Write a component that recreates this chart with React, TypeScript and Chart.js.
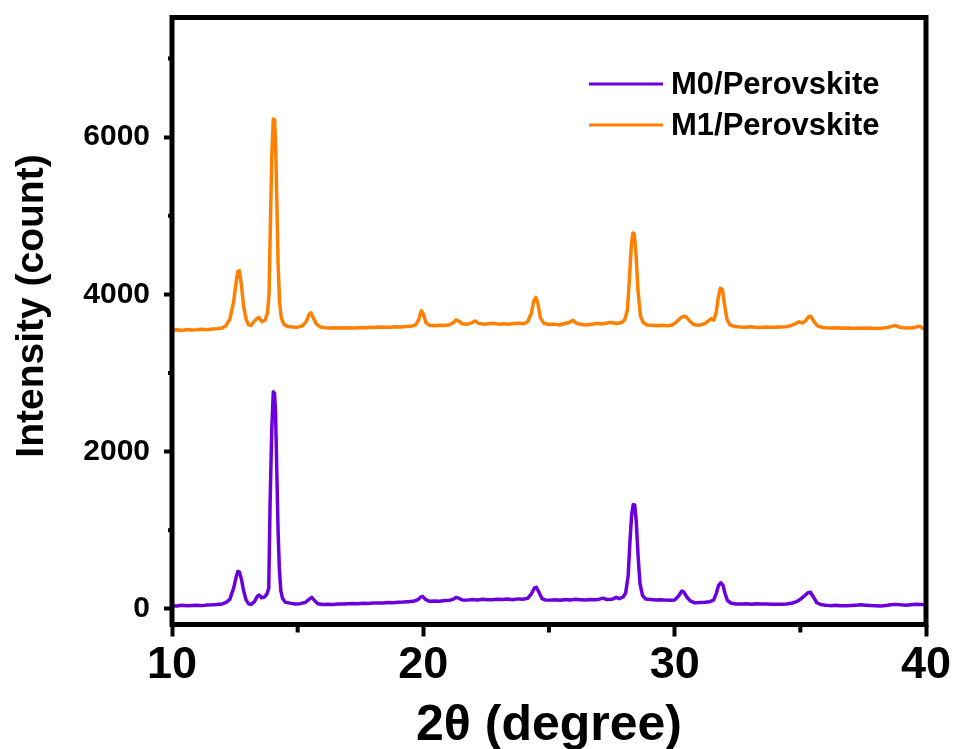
import React, { useEffect, useRef } from "react";
import { Chart, registerables } from "chart.js";

Chart.register(...registerables);

// ---- data: [2θ (degree), intensity (count)] ----
const m0Points: [number, number][] = [
  [10.0, 40], [10.2, 36], [10.4, 44], [10.6, 38], [10.8, 42], [11.0, 46], [11.2, 40], [11.4, 47], [11.6, 50], [11.8, 55],
  [12.0, 62], [12.15, 80], [12.3, 120], [12.45, 260], [12.55, 400], [12.62, 475], [12.68, 470], [12.76, 380], [12.85, 230], [12.95, 110],
  [13.05, 62], [13.15, 55], [13.28, 90], [13.4, 160], [13.47, 175], [13.56, 140], [13.68, 150], [13.78, 190], [13.85, 260], [13.9, 1300],
  [13.97, 2280], [14.03, 2760], [14.08, 2740], [14.12, 2500], [14.17, 1750], [14.22, 1000], [14.27, 520], [14.33, 230], [14.4, 130], [14.5, 85],
  [14.7, 72], [14.9, 62], [15.1, 65], [15.3, 80], [15.45, 120], [15.56, 145], [15.66, 110], [15.8, 65], [16.0, 55], [16.2, 58],
  [16.4, 55], [16.6, 62], [16.8, 60], [17.0, 64], [17.2, 66], [17.4, 63], [17.6, 70], [17.8, 68], [18.0, 72], [18.2, 75],
  [18.4, 74], [18.6, 80], [18.8, 78], [19.0, 84], [19.2, 86], [19.4, 90], [19.6, 95], [19.78, 115], [19.9, 150], [19.98, 155],
  [20.1, 115], [20.25, 95], [20.45, 100], [20.65, 96], [20.85, 104], [21.05, 108], [21.2, 122], [21.3, 145], [21.4, 135], [21.55, 112],
  [21.75, 110], [21.95, 118], [22.15, 112], [22.35, 120], [22.55, 116], [22.75, 115], [22.95, 120], [23.15, 118], [23.35, 124], [23.55, 116],
  [23.75, 126], [23.95, 120], [24.15, 132], [24.3, 190], [24.42, 265], [24.5, 272], [24.6, 210], [24.72, 130], [24.85, 112], [25.05, 110],
  [25.25, 116], [25.45, 108], [25.65, 118], [25.85, 112], [26.05, 120], [26.25, 116], [26.45, 112], [26.65, 118], [26.85, 114], [27.0, 122],
  [27.15, 135], [27.3, 118], [27.5, 120], [27.67, 145], [27.8, 128], [27.95, 150], [28.05, 200], [28.15, 420], [28.22, 850], [28.29, 1200],
  [28.35, 1325], [28.41, 1320], [28.47, 1120], [28.54, 700], [28.62, 320], [28.72, 170], [28.85, 125], [29.05, 118], [29.25, 112], [29.45, 116],
  [29.65, 110], [29.85, 108], [30.0, 112], [30.15, 160], [30.28, 225], [30.36, 215], [30.48, 150], [30.62, 100], [30.8, 75], [31.0, 80],
  [31.2, 84], [31.4, 90], [31.55, 110], [31.66, 200], [31.75, 300], [31.84, 330], [31.92, 300], [32.0, 200], [32.1, 105], [32.25, 70],
  [32.45, 62], [32.65, 60], [32.85, 63], [33.05, 58], [33.25, 64], [33.45, 60], [33.65, 62], [33.85, 58], [34.05, 56], [34.25, 58],
  [34.45, 62], [34.65, 70], [34.85, 90], [35.0, 120], [35.15, 160], [35.3, 205], [35.4, 210], [35.52, 150], [35.65, 80], [35.8, 55],
  [36.0, 45], [36.2, 40], [36.4, 44], [36.6, 38], [36.8, 40], [37.0, 42], [37.2, 46], [37.4, 50], [37.6, 46], [37.8, 42],
  [38.0, 40], [38.2, 36], [38.4, 42], [38.6, 50], [38.8, 56], [39.0, 50], [39.2, 46], [39.4, 52], [39.6, 58], [39.8, 55], [40.0, 52],
];

const m1Points: [number, number][] = [
  [10.0, 3545], [10.2, 3550], [10.4, 3540], [10.6, 3552], [10.8, 3546], [11.0, 3548], [11.2, 3555], [11.4, 3548], [11.6, 3558], [11.8, 3562],
  [12.0, 3572], [12.15, 3600], [12.3, 3680], [12.45, 3900], [12.55, 4150], [12.62, 4290], [12.68, 4300], [12.76, 4120], [12.85, 3850], [12.95, 3680],
  [13.05, 3610], [13.15, 3605], [13.28, 3660], [13.4, 3695], [13.46, 3705], [13.58, 3650], [13.7, 3670], [13.8, 3760], [13.86, 4000], [13.91, 4800],
  [13.97, 5750], [14.03, 6230], [14.08, 6220], [14.12, 5950], [14.17, 5200], [14.22, 4400], [14.28, 3900], [14.35, 3700], [14.45, 3620], [14.6, 3590],
  [14.8, 3585], [15.0, 3582], [15.2, 3600], [15.35, 3660], [15.45, 3740], [15.53, 3765], [15.62, 3700], [15.75, 3620], [15.9, 3585], [16.1, 3575],
  [16.3, 3570], [16.5, 3575], [16.7, 3570], [16.9, 3575], [17.1, 3572], [17.3, 3570], [17.5, 3578], [17.7, 3575], [17.9, 3580], [18.1, 3578],
  [18.3, 3585], [18.5, 3582], [18.7, 3580], [18.9, 3586], [19.1, 3585], [19.3, 3590], [19.5, 3592], [19.7, 3610], [19.82, 3680], [19.92, 3790],
  [20.0, 3750], [20.1, 3640], [20.25, 3605], [20.45, 3600], [20.65, 3605], [20.85, 3602], [21.05, 3612], [21.2, 3640], [21.3, 3675], [21.4, 3660],
  [21.55, 3625], [21.75, 3620], [21.95, 3640], [22.06, 3660], [22.2, 3630], [22.4, 3620], [22.6, 3625], [22.8, 3630], [23.0, 3620], [23.2, 3626],
  [23.4, 3618], [23.6, 3628], [23.8, 3632], [24.0, 3625], [24.15, 3650], [24.3, 3760], [24.4, 3920], [24.48, 3960], [24.56, 3880], [24.66, 3700],
  [24.8, 3630], [25.0, 3615], [25.2, 3620], [25.4, 3610], [25.6, 3625], [25.8, 3640], [25.96, 3670], [26.1, 3630], [26.3, 3615], [26.5, 3610],
  [26.7, 3618], [26.9, 3630], [27.1, 3622], [27.3, 3635], [27.5, 3640], [27.7, 3628], [27.9, 3640], [28.02, 3680], [28.12, 3800], [28.2, 4200],
  [28.28, 4640], [28.34, 4780], [28.39, 4770], [28.46, 4520], [28.54, 4050], [28.64, 3720], [28.75, 3640], [28.9, 3610], [29.1, 3605], [29.3, 3600],
  [29.5, 3605], [29.7, 3598], [29.9, 3610], [30.05, 3640], [30.2, 3690], [30.35, 3720], [30.45, 3715], [30.6, 3660], [30.75, 3615], [30.95, 3605],
  [31.15, 3620], [31.3, 3650], [31.45, 3690], [31.56, 3670], [31.66, 3780], [31.74, 3970], [31.82, 4075], [31.9, 4060], [31.98, 3880], [32.08, 3680],
  [32.2, 3610], [32.4, 3590], [32.6, 3585], [32.8, 3582], [33.0, 3586], [33.2, 3580], [33.4, 3578], [33.6, 3584], [33.8, 3580], [34.0, 3582],
  [34.2, 3585], [34.4, 3588], [34.6, 3598], [34.8, 3625], [34.95, 3650], [35.08, 3635], [35.2, 3660], [35.33, 3715], [35.42, 3720], [35.55, 3650],
  [35.7, 3595], [35.9, 3578], [36.1, 3572], [36.3, 3570], [36.5, 3573], [36.7, 3568], [36.9, 3572], [37.1, 3566], [37.3, 3570], [37.5, 3568],
  [37.7, 3572], [37.9, 3568], [38.1, 3566], [38.3, 3570], [38.5, 3578], [38.7, 3598], [38.8, 3602], [38.95, 3580], [39.15, 3572], [39.35, 3570],
  [39.55, 3578], [39.7, 3592], [39.78, 3588], [39.9, 3562], [40.0, 3550],
];

const seriesLabels = ["M0/Perovskite", "M1/Perovskite"];
const seriesColors = ["#6a00dc", "#ff8000"];

const xMajorTicks = [10, 20, 30, 40];
const xMinorTicks = [15, 25, 35];
const yMajorTicks = [0, 2000, 4000, 6000];
const yMinorTicks = [1000, 3000, 5000, 7000];

const xTitle = "2θ (degree)";
const yTitle = "Intensity (count)";

const FONT = "'Liberation Sans', Arial, sans-serif";

const decorPlugin = {
  id: "decor",
  afterDraw(chart: any) {
    const { ctx, chartArea } = chart;
    const { left, right, top, bottom } = chartArea;
    const xs = chart.scales.x;
    const ys = chart.scales.y;
    ctx.save();
    // minor ticks
    ctx.strokeStyle = "#000";
    ctx.lineWidth = 4;
    ctx.beginPath();
    xMinorTicks.forEach((v) => {
      const px = xs.getPixelForValue(v);
      ctx.moveTo(px, bottom);
      ctx.lineTo(px, bottom + 8);
    });
    yMinorTicks.forEach((v) => {
      const py = ys.getPixelForValue(v);
      ctx.moveTo(left, py);
      ctx.lineTo(left - 4, py);
    });
    ctx.stroke();
    // frame
    ctx.lineWidth = 5;
    ctx.strokeStyle = "#000";
    ctx.strokeRect(left, top, right - left, bottom - top);
    // legend
    const ds = chart.data.datasets;
    ctx.font = `bold 31px ${FONT}`;
    ctx.textBaseline = "middle";
    ctx.textAlign = "left";
    ds.forEach((d: any, i: number) => {
      const y = 84 + i * 41;
      ctx.strokeStyle = d.borderColor;
      ctx.lineWidth = 3;
      ctx.beginPath();
      ctx.moveTo(589, y);
      ctx.lineTo(663, y);
      ctx.stroke();
      ctx.fillStyle = "#000";
      ctx.fillText(d.label, 671, y + 1);
    });
    // axis titles
    ctx.fillStyle = "#000";
    ctx.textBaseline = "alphabetic";
    ctx.textAlign = "center";
    ctx.font = `bold 50px ${FONT}`;
    ctx.fillText(xTitle, (left + right) / 2, 740);
    ctx.save();
    ctx.translate(43, 306);
    ctx.rotate(-Math.PI / 2);
    ctx.font = `bold 39px ${FONT}`;
    ctx.fillText(yTitle, 0, 0);
    ctx.restore();
    ctx.restore();
  },
};

export default function App() {
  const ref = useRef<HTMLCanvasElement | null>(null);
  useEffect(() => {
    if (!ref.current) return;
    const chart = new Chart(ref.current, {
      type: "line",
      data: {
        datasets: [
          {
            label: seriesLabels[0],
            data: m0Points.map(([x, y]) => ({ x, y })),
            borderColor: seriesColors[0],
            backgroundColor: seriesColors[0],
            borderWidth: 3.5,
            borderJoinStyle: "round",
            pointRadius: 0,
            tension: 0,
          },
          {
            label: seriesLabels[1],
            data: m1Points.map(([x, y]) => ({ x, y })),
            borderColor: seriesColors[1],
            backgroundColor: seriesColors[1],
            borderWidth: 3.5,
            borderJoinStyle: "round",
            pointRadius: 0,
            tension: 0,
          },
        ],
      },
      options: {
        responsive: false,
        animation: false,
        layout: { padding: { top: 17.5, right: 29, left: 0, bottom: 0 } },
        plugins: { legend: { display: false }, tooltip: { enabled: false } },
        scales: {
          x: {
            type: "linear",
            min: 10,
            max: 40,
            afterBuildTicks: (s: any) => {
              s.ticks = xMajorTicks.map((v) => ({ value: v }));
            },
            afterFit: (s: any) => {
              s.height = 124.5;
              s.paddingLeft = 0;
              s.paddingRight = 0;
            },
            border: { display: false },
            grid: {
              display: true,
              drawOnChartArea: false,
              drawTicks: true,
              tickLength: 12,
              tickWidth: 4,
              tickColor: "#000",
              color: "#000",
            },
            ticks: {
              color: "#000",
              padding: 2,
              maxRotation: 0,
              callback: (v: any) => String(v),
              font: { family: FONT, size: 45, weight: "bold" },
            },
          },
          y: {
            type: "linear",
            min: -200,
            max: 7520,
            afterBuildTicks: (s: any) => {
              s.ticks = yMajorTicks.map((v) => ({ value: v }));
            },
            afterFit: (s: any) => {
              s.width = 172;
              s.paddingTop = 0;
              s.paddingBottom = 0;
            },
            border: { display: false },
            grid: {
              display: true,
              drawOnChartArea: false,
              drawTicks: true,
              tickLength: 8,
              tickWidth: 4,
              tickColor: "#000",
              color: "#000",
            },
            ticks: {
              color: "#000",
              padding: 14,
              callback: (v: any) => String(v),
              font: { family: FONT, size: 30, weight: "bold" },
            },
          },
        },
      },
      plugins: [decorPlugin],
    });
    return () => chart.destroy();
  }, []);
  return (
    <div style={{ position: "fixed", left: 0, top: 0, width: 955, height: 749, background: "#fff" }}>
      <canvas ref={ref} width={955} height={749} style={{ width: 955, height: 749, display: "block" }} />
    </div>
  );
}
